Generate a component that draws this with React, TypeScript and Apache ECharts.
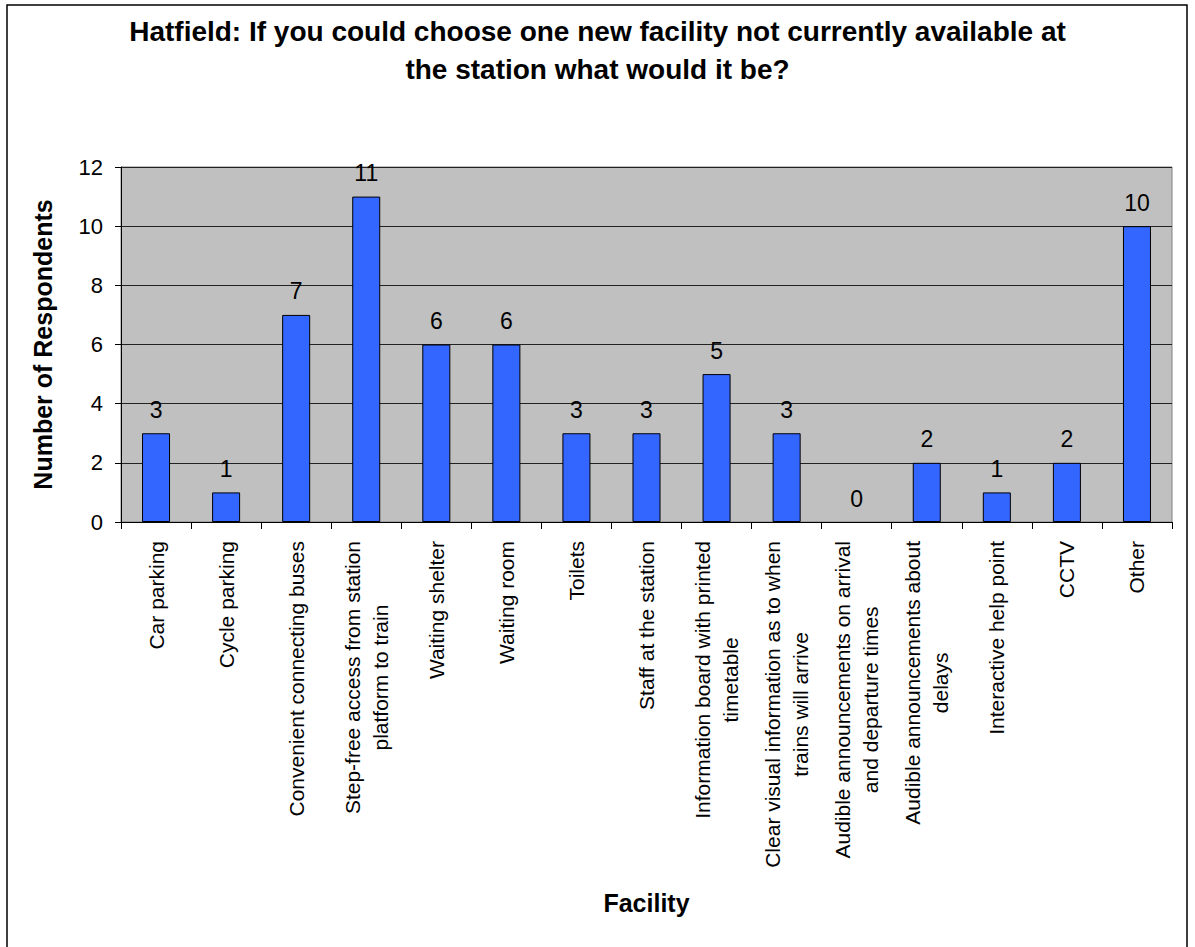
import React, { useEffect, useRef } from "react";
import * as echarts from "echarts";

const categories: string[] = [
  "Car parking",
  "Cycle parking",
  "Convenient connecting buses",
  "Step-free access from station\nplatform to train",
  "Waiting shelter",
  "Waiting room",
  "Toilets",
  "Staff at the station",
  "Information board with printed\ntimetable",
  "Clear visual information as to when\ntrains will arrive",
  "Audible announcements on arrival\nand departure times",
  "Audible announcements about\ndelays",
  "Interactive help point",
  "CCTV",
  "Other",
];

const respondents: number[] = [3, 1, 7, 11, 6, 6, 3, 3, 5, 3, 0, 2, 1, 2, 10];

const titleLines: string[] = [
  "Hatfield: If you could choose one new facility not currently available at",
  "the station what would it be?",
];

const yAxisTitle = "Number of Respondents";
const xAxisTitle = "Facility";

const FONT = "Arial, 'Liberation Sans', sans-serif";

export default function App() {
  const ref = useRef<HTMLDivElement>(null);

  useEffect(() => {
    if (!ref.current) return;
    const chart = echarts.init(ref.current, undefined, { renderer: "svg" });
    chart.setOption({
      animation: false,
      backgroundColor: "#ffffff",
      textStyle: { fontFamily: FONT },
      title: {
        text: titleLines.join("\n"),
        left: "center",
        top: 12,
        padding: 0,
        textStyle: {
          fontFamily: FONT,
          fontSize: 28,
          fontWeight: "bold",
          color: "#000",
          lineHeight: 38,
        },
      },
      graphic: [
        {
          type: "rect",
          shape: { x: 7, y: 5, width: 1180, height: 960 },
          style: { fill: "none", stroke: "#000", lineWidth: 1.5 },
          silent: true,
          z: 100,
        },
      ],
      grid: {
        left: 121,
        top: 167,
        right: 23,
        bottom: 425,
        show: true,
        backgroundColor: "#C0C0C0",
        borderColor: "#808080",
        borderWidth: 1,
        containLabel: false,
      },
      xAxis: {
        type: "category",
        data: categories,
        name: xAxisTitle,
        nameLocation: "middle",
        nameGap: 368,
        nameMoveOverlap: false,
        nameTextStyle: {
          fontFamily: FONT,
          fontSize: 25,
          fontWeight: "bold",
          color: "#000",
        },
        axisLine: { show: true, lineStyle: { color: "#000", width: 1 } },
        axisTick: {
          show: true,
          alignWithLabel: false,
          length: 7,
          lineStyle: { color: "#000" },
        },
        axisLabel: {
          interval: 0,
          rotate: 90,
          margin: 19,
          hideOverlap: false,
          color: "#000",
          fontFamily: FONT,
          fontSize: 21,
          formatter: (v: string) =>
            v
              .split("\n")
              .map((l) => "{c|" + l + "}")
              .join("\n"),
          rich: {
            c: {
              align: "center",
              fontFamily: FONT,
              fontSize: 21,
              lineHeight: 28,
              color: "#000",
            },
          },
        },
        splitLine: { show: false },
      },
      yAxis: {
        type: "value",
        min: 0,
        max: 12,
        interval: 2,
        name: yAxisTitle,
        nameLocation: "middle",
        nameGap: 66,
        nameTextStyle: {
          fontFamily: FONT,
          fontSize: 25,
          fontWeight: "bold",
          color: "#000",
        },
        axisLine: { show: true, lineStyle: { color: "#000", width: 1 } },
        axisTick: { show: true, length: 6, lineStyle: { color: "#000" } },
        axisLabel: {
          margin: 18,
          color: "#000",
          fontFamily: FONT,
          fontSize: 22,
        },
        splitLine: { show: true, lineStyle: { color: "#222", width: 1 } },
      },
      series: [
        {
          type: "bar",
          data: respondents.map((v) =>
            v === 0
              ? { value: v, itemStyle: { borderWidth: 0, borderColor: "transparent" } }
              : v
          ),
          barWidth: "40%",
          itemStyle: {
            color: "#3366FF",
            borderColor: "#000",
            borderWidth: 1,
          },
          label: {
            show: true,
            position: "top",
            distance: 12,
            color: "#000",
            fontFamily: FONT,
            fontSize: 23,
          },
        },
      ],
    });
    return () => chart.dispose();
  }, []);

  return (
    <div
      ref={ref}
      style={{
        position: "fixed",
        left: 0,
        top: 0,
        width: 1195,
        height: 947,
        background: "#fff",
      }}
    />
  );
}
